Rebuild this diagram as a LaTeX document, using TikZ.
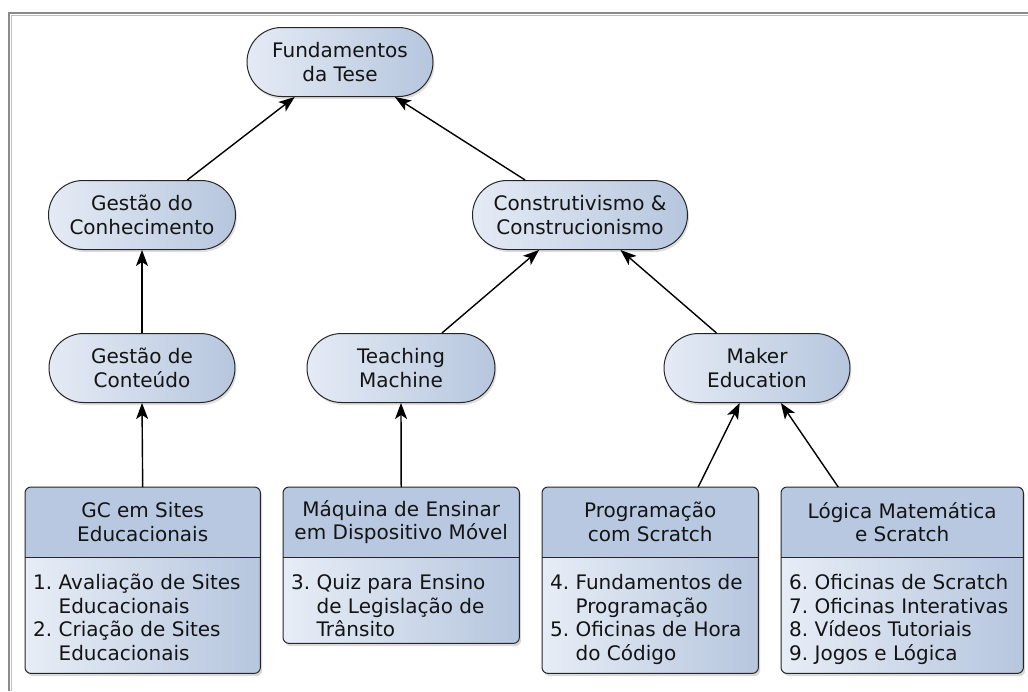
\documentclass[tikz,border=0pt]{standalone}
\usepackage{fontspec}
\setmainfont{DejaVu Sans}
\usetikzlibrary{shapes.misc,arrows.meta,shadows}

\definecolor{pillL}{HTML}{E5EBF5}
\definecolor{pillR}{HTML}{B6C6DE}
\definecolor{hdrblue}{HTML}{B8C8E0}
\definecolor{bodyL}{HTML}{E7EDF6}
\definecolor{bodyR}{HTML}{B6C6DE}
\definecolor{ink}{HTML}{141414}
\definecolor{framegray}{HTML}{8A8A8A}

\tikzset{
  txt/.style={font=\fontsize{20}{23.5}\selectfont, text=ink},
  pill/.style={rounded rectangle, draw=black!85, line width=1pt,
    left color=pillL, right color=pillR, align=center, txt,
    minimum height=69pt, inner sep=0pt,
    drop shadow={shadow xshift=1.5pt, shadow yshift=-2.5pt, opacity=0.25}},
  boxshape/.style={rectangle, rounded corners=6pt, draw=none,
    left color=bodyL, right color=bodyR, inner sep=0pt,
    drop shadow={shadow xshift=2pt, shadow yshift=-3pt, opacity=0.3}},
  boxline/.style={draw=black!85, line width=1pt},
  hdrtext/.style={txt, align=center, inner sep=0pt},
  bodytext/.style={txt, inner sep=0pt},
  link/.style={line width=1.4pt, -{Stealth[length=16pt, width=12pt, inset=4pt]}},
}

% #1 name, #2 left x, #3 top y, #4 width, #5 height, #6 header, #7 list
\newcommand\infobox[7]{%
  \node[boxshape, minimum width=#4pt, minimum height=#5pt, anchor=north west] (#1) at (#2,#3) {};
  \begin{scope}
    \clip[rounded corners=6pt] (#1.north west) rectangle (#1.south east);
    \fill[hdrblue] (#1.north west) rectangle ([yshift=-70pt]#1.north east);
  \end{scope}
  \draw[boxline] ([yshift=-70pt]#1.north west) -- ([yshift=-70pt]#1.north east);
  \draw[boxline, rounded corners=6pt] (#1.north west) rectangle (#1.south east);
  \node[hdrtext] (#1-head) at ([yshift=-35pt]#1.north) {#6};
  \node[bodytext, anchor=north west] (#1-body) at ([xshift=8pt,yshift=-86pt]#1.north west)
    {\begin{tabular}{@{}l@{\ }l@{}}#7\end{tabular}};
}

\begin{document}
\begin{tikzpicture}[x=1pt, y=-1pt]
  \useasboundingbox (0,0) rectangle (1028,691);

  % window frame
  \draw[framegray, line width=2pt] (9,691) -- (9,13) -- (1028,13);
  \draw[black!25, line width=1pt] (11.5,691) -- (11.5,15.5) -- (1028,15.5);

  % concept nodes
  \node[pill, minimum width=186pt] (fund) at (340,62) {Fundamentos\\da Tese};
  \node[pill, minimum width=187pt] (gk)   at (142,215) {Gestão do\\Conhecimento};
  \node[pill, minimum width=215pt] (cc)   at (580,215) {Construtivismo \&\\Construcionismo};
  \node[pill, minimum width=186pt] (gct)  at (142,368) {Gestão de\\Conteúdo};
  \node[pill, minimum width=188pt] (tm)   at (401,368) {Teaching\\Machine};
  \node[pill, minimum width=186pt] (me)   at (757,368) {Maker\\Education};

  % study boxes
  \infobox{gc}{25}{487}{235}{186}{GC em Sites\\Educacionais}
    {1. & Avaliação de Sites\\ & Educacionais\\ 2. & Criação de Sites\\ & Educacionais}
  \infobox{maq}{283}{487}{236}{156}{Máquina de Ensinar\\em Dispositivo Móvel}
    {3. & Quiz para Ensino\\ & de Legislação de\\ & Trânsito}
  \infobox{prog}{542}{487}{216}{186}{Programação\\com Scratch}
    {4. & Fundamentos de\\ & Programação\\ 5. & Oficinas de Hora\\ & do Código}
  \infobox{log}{781}{487}{242}{186}{Lógica Matemática\\e Scratch}
    {6. & Oficinas de Scratch\\ 7. & Oficinas Interativas\\ 8. & Vídeos Tutoriais\\ 9. & Jogos e Lógica}

  % connectors
  \draw[link] (gk) -- (fund);
  \draw[link] (cc) -- (fund);
  \draw[link] (gct.north) -- (gk.south);
  \draw[link] (gc.north) -- (gct.south);
  \draw[link] (tm) -- (cc);
  \draw[link] (me) -- (cc);
  \draw[link] (maq.north) -- (tm.south);
  \draw[link] ([xshift=48pt]prog.north) -- (me);
  \draw[link] ([xshift=-64pt]log.north) -- (me);
\end{tikzpicture}
\end{document}
